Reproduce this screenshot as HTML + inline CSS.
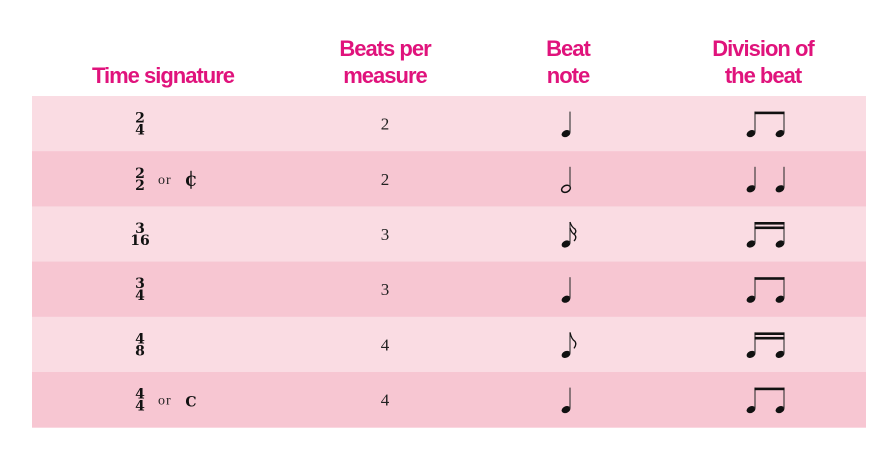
<!DOCTYPE html>
<html><head><meta charset="utf-8"><style>
body{margin:0;background:#fff;width:887px;height:461px;overflow:hidden}
svg{display:block}
.h{font-family:"Liberation Sans",sans-serif;font-weight:bold;font-size:22px;fill:#e0137c;text-anchor:middle;letter-spacing:-1px}
.n{font-family:"Liberation Serif",serif;font-size:17px;fill:#222;text-anchor:middle}
.ts{font-family:"DejaVu Serif",serif;font-weight:bold;font-size:14px;fill:#111;text-anchor:middle}
.or{font-family:"Liberation Serif",serif;font-size:14px;fill:#222;letter-spacing:1px}
</style></head><body>
<svg width="887" height="461">
<text class="h" x="163" y="83">Time signature</text>
<text class="h" x="385" y="56"><tspan x="385">Beats per</tspan><tspan x="385" y="83">measure</tspan></text>
<text class="h" x="568" y="56"><tspan x="568">Beat</tspan><tspan x="568" y="83">note</tspan></text>
<text class="h" x="763" y="56"><tspan x="763">Division of</tspan><tspan x="763" y="83">the beat</tspan></text>
<g id="rows"></g>
</svg>
<script>
const tops=['2','2','3','3','4','4'];
const bots=['4','2','16','4','8','4'];
const alts=['','cut','','','','C'];
const beats=['2','2','3','3','4','4'];
const beatNote=['q','h','s','q','e','q'];
const division=['e','q','s','e','s','e'];
const NS='http://www.w3.org/2000/svg';
const g=document.getElementById('rows');
function el(t,a,p){const e=document.createElementNS(NS,t);for(const k in a)e.setAttribute(k,a[k]);(p||g).appendChild(e);return e;}
function head(x,y,hollow,p){
 const e=el('ellipse',{cx:x,cy:y,rx:4.6,ry:3.3,transform:`rotate(-25 ${x} ${y})`,fill:hollow?'none':'#111',stroke:'#111','stroke-width':hollow?1.5:0},p);
 
}
function stem(x,y1,y2,p){el('line',{x1:x,y1:y1,x2:x,y2:y2,stroke:'#333','stroke-width':1.1},p);}
const SH=22;
function single(type,x,y,p){
 head(x,y,type==='h',p);stem(x+4,y-1,y-SH,p);
 if(type==='e'){el('path',{d:`M${x+4} ${y-SH} q1.5 7 5 9 q2 3 -1 7`,fill:'none',stroke:'#111','stroke-width':1.3},p);}
 if(type==='s'){el('path',{d:`M${x+4} ${y-SH} q1.5 5 5 7 q2 3 -1 5 M${x+4} ${y-SH+6} q1.5 5 5 7 q2 3 -1 6`,fill:'none',stroke:'#111','stroke-width':1.3},p);}
}
function pair(type,x,y,p){
 const x2=x+29;
 if(type==='q'){single('q',x,y,p);single('q',x2,y,p);return;}
 head(x,y,false,p);head(x2,y,false,p);
 stem(x+4,y-1,y-SH,p);stem(x2+4,y-1,y-SH,p);
 el('rect',{x:x+3.5,y:y-SH,width:x2-x+1,height:2.6,fill:'#111'},p);
 if(type==='s')el('rect',{x:x+3.5,y:y-SH+4.5,width:x2-x+1,height:2.6,fill:'#111'},p);
}
const top0=96,rh=55.2;
for(let i=0;i<beats.length;i++){
 const y=top0+i*rh;
 const row=el('g',{});
 
 
 el('rect',{x:32,y:y,width:834,height:rh+0.5,fill:i%2?'#f7c6d2':'#fadce3'},row);
 const c=y+rh/2;
 let t=el('text',{class:'ts',x:140,y:c-1},row);t.textContent=tops[i];
 
 t=el('text',{class:'ts',x:140,y:c+11},row);t.textContent=bots[i];
 
 if(alts[i]){
  t=el('text',{class:'or',x:158,y:c+5},row);t.textContent='or';
  
  t=el('text',{class:'ts',x:191,y:c+7,'font-size':'18'},row);t.textContent='C';
  
  if(alts[i]==='cut')el('line',{x1:191,y1:c-8,x2:191,y2:c+10,stroke:'#111','stroke-width':1.3},row);
 }
 t=el('text',{class:'n',x:385,y:c+6},row);t.textContent=beats[i];
 
 const bn=el('g',{},row);
 single(beatNote[i],566,c+10,bn);
 const dv=el('g',{},row);
 pair(division[i],751,c+10,dv);
}
</script>
</body></html>
